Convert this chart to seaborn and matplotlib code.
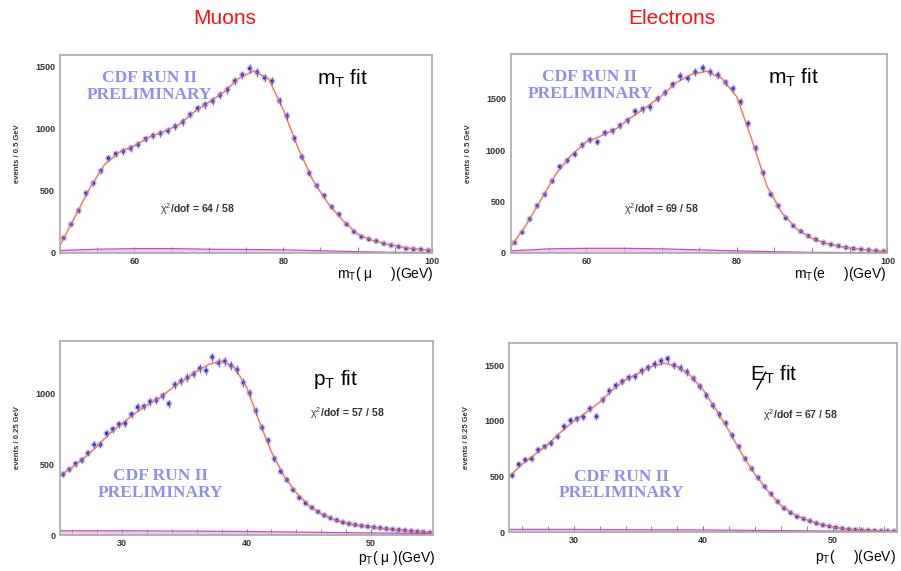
import numpy as np
import pandas as pd
import matplotlib
matplotlib.use("Agg")
import matplotlib.pyplot as plt
from matplotlib.ticker import MultipleLocator
from matplotlib.transforms import offset_copy
import seaborn as sns

sns.set_theme(style="white")
plt.rcParams['font.family'] = ['Liberation Sans', 'DejaVu Sans']
plt.rcParams['mathtext.fontset'] = 'custom'
plt.rcParams['mathtext.rm'] = 'Liberation Sans'
plt.rcParams['mathtext.it'] = 'Liberation Sans'
plt.rcParams['mathtext.bf'] = 'Liberation Sans:bold'

# ---------------- data ----------------
mt_x = [50.5 + i for i in range(50)]
mu_mt = [120, 230, 340, 480, 560, 660, 760, 795, 815, 840,
         870, 915, 940, 960, 980, 1015, 1050, 1110, 1160, 1190,
         1220, 1265, 1310, 1380, 1430, 1480, 1450, 1405, 1380, 1220,
         1100, 920, 770, 640, 540, 460, 370, 310, 230, 170,
         130, 110, 95, 75, 62, 50, 35, 30, 28, 20]
el_mt = [100, 200, 330, 460, 570, 700, 840, 900, 960, 1050,
         1100, 1080, 1170, 1190, 1240, 1290, 1380, 1400, 1420, 1500,
         1560, 1640, 1720, 1700, 1760, 1800, 1760, 1730, 1660, 1600,
         1470, 1260, 1020, 780, 570, 460, 340, 265, 210, 165,
         130, 100, 82, 68, 53, 42, 35, 28, 20, 15]

pt_x = [25.25 + 0.5 * i for i in range(60)]
mu_pt = [430, 465, 505, 530, 580, 640, 640, 720, 750, 785,
         790, 855, 905, 910, 945, 955, 985, 930, 1065, 1090,
         1115, 1140, 1180, 1165, 1260, 1220, 1230, 1200, 1170, 1080,
         1005, 880, 760, 670, 540, 450, 390, 320, 265, 225,
         195, 165, 140, 120, 105, 90, 80, 72, 65, 60,
         55, 50, 44, 40, 36, 32, 28, 24, 20, 17]
el_met = [510, 610, 650, 660, 740, 770, 800, 860, 950, 1005,
          1020, 1035, 1110, 1040, 1190, 1270, 1320, 1355, 1390, 1400,
          1450, 1480, 1510, 1540, 1560, 1500, 1475, 1440, 1380, 1310,
          1230, 1140, 1060, 980, 870, 770, 660, 570, 490, 410,
          345, 275, 215, 175, 140, 120, 100, 80, 63, 52,
          42, 33, 26, 21, 17, 15, 12, 10, 9, 8]

# fit curves
fit_mt_x = [50 + 2 * i for i in range(26)]
mu_mt_fit = [60, 290, 520, 710, 810, 860, 930, 975, 1030, 1130, 1210, 1290, 1400,
             1460, 1400, 1150, 840, 580, 400, 260, 150, 100, 70, 45, 30, 20]
el_mt_fit = [60, 270, 520, 770, 950, 1080, 1140, 1210, 1320, 1420, 1530, 1660, 1740,
             1770, 1700, 1520, 1100, 650, 390, 230, 140, 90, 58, 38, 24, 15]
fit_pt_x = [25 + i for i in range(31)]
mu_pt_fit = [420, 480, 550, 630, 720, 790, 860, 920, 970, 1040, 1100, 1160, 1210, 1230,
             1190, 1050, 810, 590, 420, 300, 210, 150, 110, 85, 68, 56, 45, 37, 29, 22, 16]
el_met_fit = [500, 610, 700, 790, 900, 1000, 1080, 1170, 1280, 1370, 1430, 1490, 1520,
              1490, 1410, 1280, 1100, 910, 700, 520, 370, 240, 160, 110, 72, 46, 30, 20, 14, 10, 8]

# backgrounds
bkg_mt_x = [50, 55, 60, 65, 70, 75, 80, 85, 90, 95, 100]
mu_mt_bkg = [20, 30, 35, 35, 30, 28, 25, 18, 10, 5, 3]
el_mt_bkg = [20, 40, 45, 45, 40, 30, 20, 12, 6, 3, 2]
bkg_pt_x = [25, 30, 35, 40, 45, 50, 55]
mu_pt_bkg = [30, 30, 28, 25, 20, 15, 10]
el_met_bkg = [25, 25, 22, 20, 15, 10, 6]

panels = [
    dict(rect=[0.0666, 0.557, 0.413, 0.347], x=mt_x, y=mu_mt, fx=fit_mt_x, fy=mu_mt_fit,
         bx=bkg_mt_x, by=mu_mt_bkg, xlim=(50, 100), ylim=(0, 1590), xmaj=20, xmin=5,
         ylabel='events / 0.5 GeV', fit='m$_\\mathregular{T}$ fit', fitpos=(0.76, 0.88),
         chi='$\\chi^2$/dof = 64 / 58', chipos=(0.37, 0.22), cdfpos=(0.24, 0.84),
         xlab='m$_\\mathregular{T}$( μ     )(GeV)', xlabpos=(434, 274)),
    dict(rect=[0.567, 0.557, 0.418, 0.349], x=mt_x, y=el_mt, fx=fit_mt_x, fy=el_mt_fit,
         bx=bkg_mt_x, by=el_mt_bkg, xlim=(50, 100), ylim=(0, 1940), xmaj=20, xmin=5,
         ylabel='events / 0.5 GeV', fit='m$_\\mathregular{T}$ fit', fitpos=(0.75, 0.88),
         chi='$\\chi^2$/dof = 69 / 58', chipos=(0.40, 0.22), cdfpos=(0.21, 0.84),
         xlab='m$_\\mathregular{T}$(e     )(GeV)', xlabpos=(886, 274)),
    dict(rect=[0.0666, 0.063, 0.414, 0.340], x=pt_x, y=mu_pt, fx=fit_pt_x, fy=mu_pt_fit,
         bx=bkg_pt_x, by=mu_pt_bkg, xlim=(25, 55), ylim=(0, 1375), xmaj=10, xmin=2,
         ylabel='events / 0.25 GeV', fit='p$_\\mathregular{T}$ fit', fitpos=(0.74, 0.80),
         chi='$\\chi^2$/dof = 57 / 58', chipos=(0.77, 0.63), cdfpos=(0.27, 0.26),
         xlab='p$_\\mathregular{T}$( μ )(GeV)', xlabpos=(435, 558)),
    dict(rect=[0.565, 0.068, 0.431, 0.331], x=pt_x, y=el_met, fx=fit_pt_x, fy=el_met_fit,
         bx=bkg_pt_x, by=el_met_bkg, xlim=(25, 55), ylim=(0, 1700), xmaj=10, xmin=2,
         ylabel='events / 0.25 GeV', fit=None, fitpos=(0.62, 0.80),
         chi='$\\chi^2$/dof = 67 / 58', chipos=(0.75, 0.62), cdfpos=(0.29, 0.25),
         xlab='p$_\\mathregular{T}$(     )(GeV)', xlabpos=(896, 557)),
]

fig = plt.figure(figsize=(9.01, 5.71), dpi=100)
W, H = 901, 571

fig.text(225 / W, 1 - 18 / H, 'Muons', color='#ff1010', fontsize=15, ha='center', va='center')
fig.text(672 / W, 1 - 18 / H, 'Electrons', color='#ff1010', fontsize=15, ha='center', va='center')

for p in panels:
    ax = fig.add_axes(p['rect'])
    ax.set_facecolor('white')
    x = np.array(p['x']); y = np.array(p['y'])
    # background
    ax.fill_between(p['bx'], 0, p['by'], color='#e6b3e6', alpha=0.7, lw=0)
    sns.lineplot(x=p['bx'], y=p['by'], ax=ax, color='#c050c0', lw=0.9)
    # fit
    sns.lineplot(x=p['fx'], y=p['fy'], ax=ax, color='#f07050', lw=1.1, alpha=0.9)
    # data
    ax.errorbar(x, y, yerr=np.sqrt(y) * 0.9, fmt='none', ecolor='#5050e0', elinewidth=0.9, alpha=0.8)
    sns.scatterplot(x=x, y=y, ax=ax, color='#9a8cf0', s=22, edgecolor='none', alpha=0.55)
    sns.scatterplot(x=x, y=y, ax=ax, color='#2a2aa8', s=6, edgecolor='none')

    ax.set_xlim(*p['xlim']); ax.set_ylim(*p['ylim'])
    ax.xaxis.set_major_locator(MultipleLocator(p['xmaj']))
    ax.xaxis.set_minor_locator(MultipleLocator(p['xmin']))
    ax.yaxis.set_major_locator(MultipleLocator(500))
    ax.yaxis.set_minor_locator(MultipleLocator(100))
    ax.tick_params(which='both', direction='in', colors='#777777', labelcolor='#333333',
                   labelsize=6.5, top=False, right=False)
    ax.tick_params(which='major', length=6, width=0.8)
    ax.tick_params(which='minor', length=3, width=0.6)
    ax.tick_params(axis='x', which='both', bottom=True, length=4, pad=3)
    for lab in ax.get_xticklabels() + ax.get_yticklabels():
        lab.set_fontweight('bold')
    for s in ax.spines.values():
        s.set_color('#aaaaaa'); s.set_linewidth(1.2); s.set_visible(True)
    ax.set_xlabel(''); ax.set_ylabel(p['ylabel'], fontsize=5.5, fontweight='bold', color='#333333', labelpad=10)

    if p['fit'] is not None:
        ax.text(*p['fitpos'], p['fit'], transform=ax.transAxes, fontsize=15, ha='center', va='center', color='black')
    else:
        fx0, fy0 = p['fitpos']
        ax.text(fx0, fy0, 'E$_\\mathregular{T}$ fit', transform=ax.transAxes,
                fontsize=15, ha='left', va='baseline', color='black')
        # the slash of the missing-E_T symbol, drawn as a line
        ax.annotate('', xy=(fx0, fy0), xycoords=offset_copy(ax.transAxes, fig=fig, x=11.5, y=6.5, units='points'),
                    xytext=(fx0, fy0), textcoords=offset_copy(ax.transAxes, fig=fig, x=5.0, y=-6.0, units='points'),
                    arrowprops=dict(arrowstyle='-', lw=1.0, color='black', shrinkA=0, shrinkB=0))
    ax.text(*p['chipos'], p['chi'], transform=ax.transAxes, fontsize=7.5, fontweight='bold',
            ha='center', va='center', color='#333333')
    ax.text(*p['cdfpos'], 'CDF RUN II\nPRELIMINARY', transform=ax.transAxes, fontsize=12.5,
            fontweight='bold', family=['Liberation Serif', 'DejaVu Serif'], color='#8e8ef2',
            ha='center', va='center', linespacing=1.05)
    fig.text(p['xlabpos'][0] / W, 1 - p['xlabpos'][1] / H, p['xlab'], fontsize=10,
             ha='right', va='center', color='black')

fig.savefig('out.png', dpi=100, facecolor='white')
